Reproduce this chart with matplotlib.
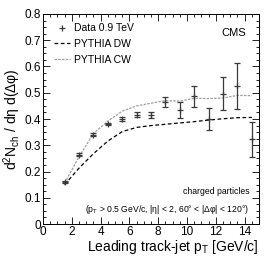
import matplotlib
matplotlib.use("Agg")
from matplotlib import pyplot as plt
from matplotlib.ticker import MultipleLocator, FuncFormatter

plt.rcParams['font.family'] = ['Liberation Sans', 'DejaVu Sans']
plt.rcParams['mathtext.fontset'] = 'custom'
plt.rcParams['mathtext.rm'] = 'Liberation Sans'
plt.rcParams['mathtext.it'] = 'Liberation Sans'

# bin centres of leading track-jet pT
pt = [1.5, 2.5, 3.5, 4.5, 5.5, 6.5, 7.5, 8.5, 9.5, 10.5, 11.5, 12.5, 13.5, 14.5]
data = [0.160, 0.264, 0.340, 0.381, 0.400, 0.416, 0.415, 0.465, 0.433, 0.486,
        0.400, 0.497, 0.526, 0.322]
data_err = [0.004, 0.005, 0.005, 0.005, 0.006, 0.010, 0.010, 0.020, 0.030, 0.040,
            0.042, 0.063, 0.086, 0.068]
pythia_dw = [0.150, 0.213, 0.268, 0.316, 0.352, 0.368, 0.375, 0.380, 0.385, 0.390,
             0.396, 0.401, 0.405, 0.406]
pythia_cw = [0.156, 0.256, 0.345, 0.392, 0.430, 0.450, 0.460, 0.470, 0.468, 0.479,
             0.478, 0.480, 0.490, 0.489]

fig = plt.figure(figsize=(2.69, 2.59), dpi=100)
ax = fig.add_axes([0.160, 0.135, 0.803, 0.811])

ax.plot(pt, pythia_dw, color='black', ls=(0, (3, 2)), lw=0.9, label='PYTHIA DW')
ax.plot(pt, pythia_cw, color='#a0a0a0', ls=(0, (2, 1)), lw=0.9, label='PYTHIA CW')
eb = ax.errorbar(pt, data, yerr=data_err, fmt='+', color='#3a3a3a', ms=5, mew=0.9,
                 elinewidth=0.9, capsize=2, capthick=0.9, label='Data 0.9 TeV')

ax.set_xlim(0, 15)
ax.set_ylim(0, 0.8)
ax.xaxis.set_major_locator(MultipleLocator(2))
ax.xaxis.set_minor_locator(MultipleLocator(0.5))
ax.yaxis.set_major_locator(MultipleLocator(0.1))
ax.yaxis.set_minor_locator(MultipleLocator(0.025))
ax.xaxis.set_major_formatter(FuncFormatter(lambda v, p: '%g' % round(v, 3)))
ax.yaxis.set_major_formatter(FuncFormatter(lambda v, p: '%g' % round(v, 3)))
ax.tick_params(which='both', direction='in', top=True, right=True, labelsize=8.5, width=0.6)
ax.tick_params(which='major', length=5)
ax.tick_params(which='minor', length=2.5)
ax.tick_params(axis='x', pad=1.5)
ax.tick_params(axis='y', pad=1.5)
for s in ax.spines.values():
    s.set_linewidth(0.7)

ax.set_xlabel('Leading track-jet p$_\\mathregular{T}$ [GeV/c]', fontsize=10, ha='right', x=1.0, labelpad=0)
ax.set_ylabel('d$^\\mathregular{2}$N$_\\mathregular{ch}$ / d\u03b7 d(\u0394\u03c6)', fontsize=10, labelpad=1)

handles, labels = ax.get_legend_handles_labels()
ax.legend([eb[0], handles[0], handles[1]], ['Data 0.9 TeV', labels[0], labels[1]], loc='upper left',
          bbox_to_anchor=(0.02, 0.985), frameon=False, fontsize=7.5, handlelength=1.6,
          handletextpad=0.4, labelspacing=0.55, borderaxespad=0.2)

ax.text(0.94, 0.91, 'CMS', transform=ax.transAxes, ha='right', va='center', fontsize=8)
ax.text(0.955, 0.155, 'charged particles', transform=ax.transAxes, ha='right', va='center', fontsize=6.2)
ax.text(0.955, 0.07, '(p$_\\mathregular{T}$ > 0.5 GeV/c, |\u03b7| < 2, 60\u00b0 < |\u0394\u03c6| < 120\u00b0)',
        transform=ax.transAxes, ha='right', va='center', fontsize=6.2)

fig.savefig('out.png', dpi=100)
